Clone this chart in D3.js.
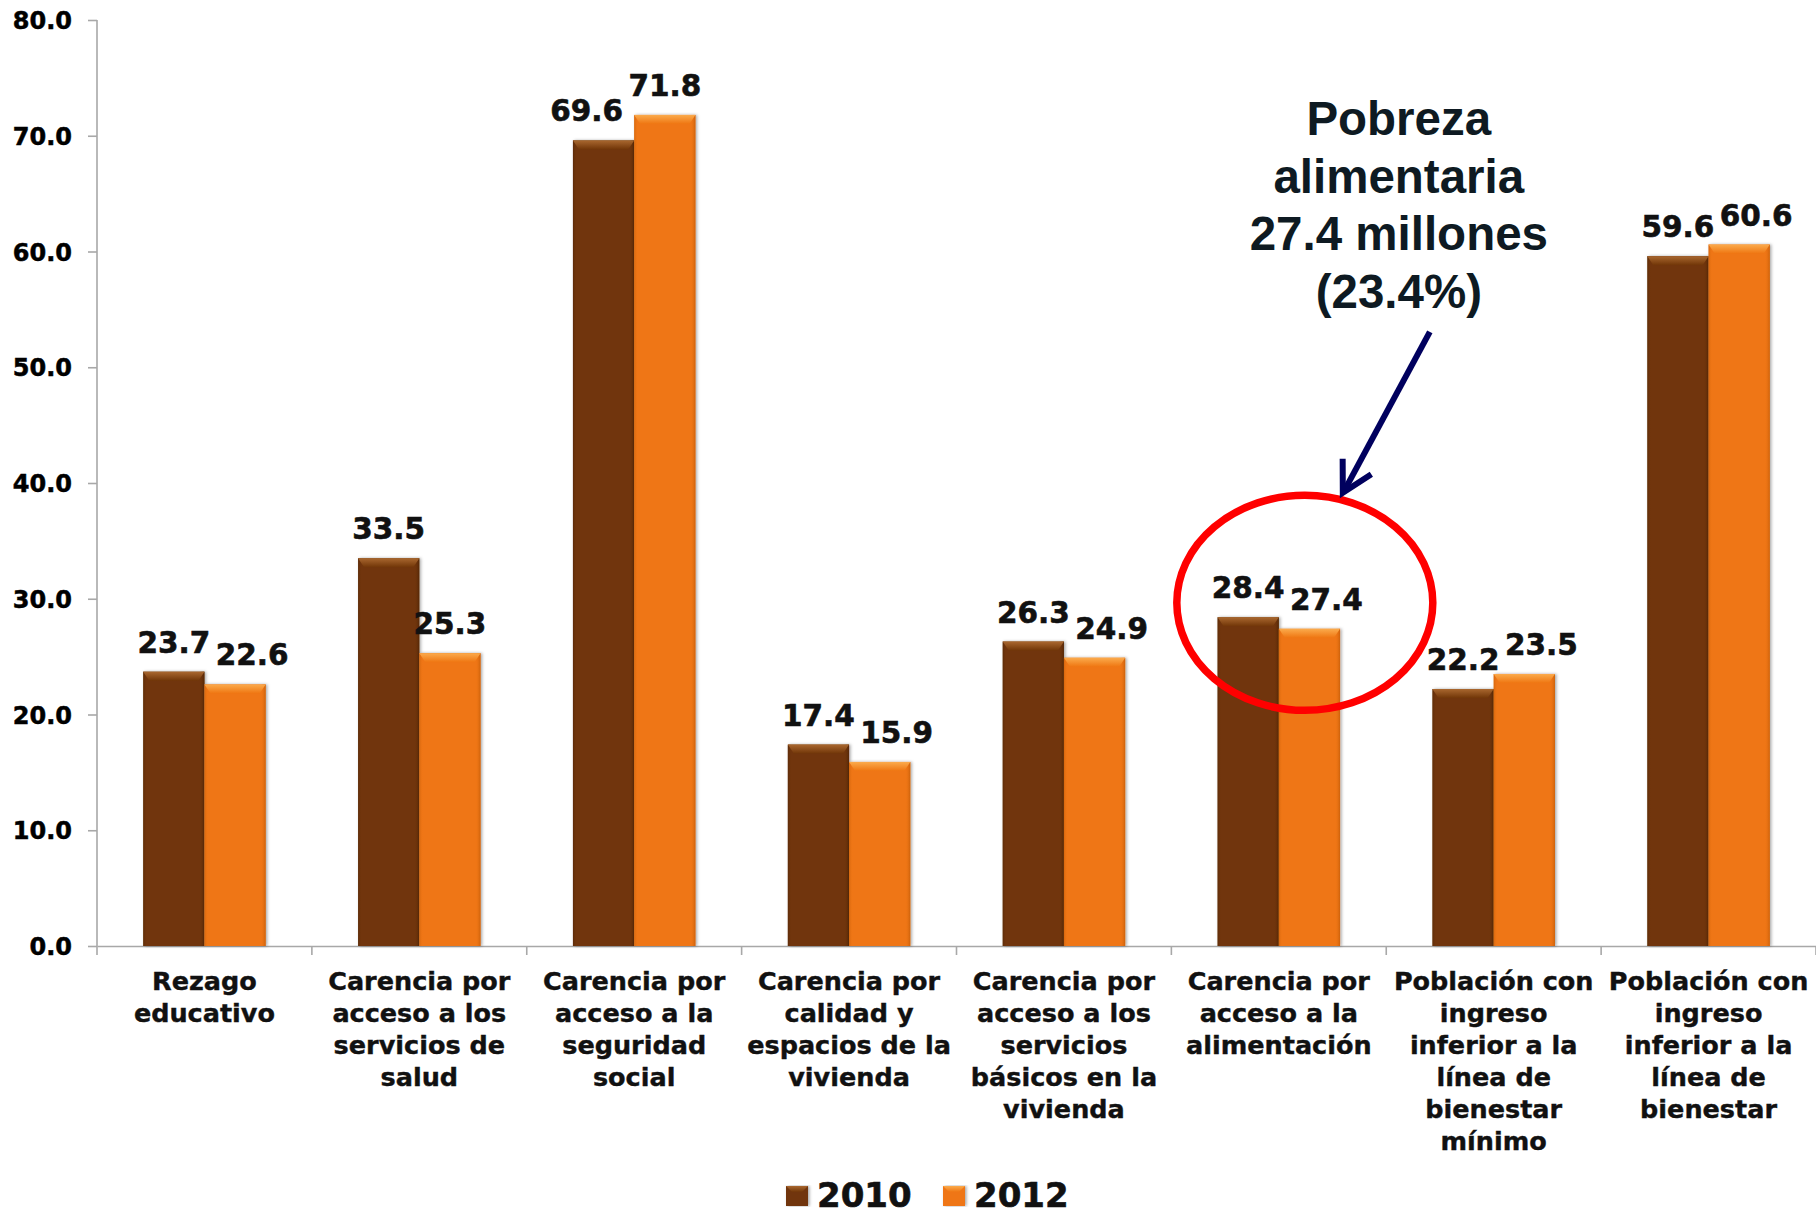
<!DOCTYPE html>
<html>
<head>
<meta charset="utf-8">
<script src="https://cdn.jsdelivr.net/npm/d3@7"></script>
<style>
  html, body { margin: 0; padding: 0; background: #ffffff; }
  svg { display: block; }
</style>
</head>
<body>
<svg id="chart" width="1816" height="1216"></svg>
<script>
// ---------------- data ----------------
const categories = [
  ["Rezago", "educativo"],
  ["Carencia por", "acceso a los", "servicios de", "salud"],
  ["Carencia por", "acceso a la", "seguridad", "social"],
  ["Carencia por", "calidad y", "espacios de la", "vivienda"],
  ["Carencia por", "acceso a los", "servicios", "básicos en la", "vivienda"],
  ["Carencia por", "acceso a la", "alimentación"],
  ["Población con", "ingreso", "inferior a la", "línea de", "bienestar", "mínimo"],
  ["Población con", "ingreso", "inferior a la", "línea de", "bienestar"]
];
const seriesNames = ["2010", "2012"];
const values2010 = [23.7, 33.5, 69.6, 17.4, 26.3, 28.4, 22.2, 59.6];
const values2012 = [22.6, 25.3, 71.8, 15.9, 24.9, 27.4, 23.5, 60.6];
const yTicks = [0, 10, 20, 30, 40, 50, 60, 70, 80];
const annotationLines = ["Pobreza", "alimentaria", "27.4 millones", "(23.4%)"];
const highlightIndex = 5;   // "Carencia por acceso a la alimentación"

// ---------------- layout ----------------
const W = 1816, H = 1216;
const plot = { left: 97, right: 1816, top: 20, bottom: 946 };
const colors = {
  "2010": { main: "#713608", light: "#a9672f", dark: "#4a2205" },
  "2012": { main: "#ef7612", light: "#fbab4c", dark: "#c05a08" }
};
const FONT = "'DejaVu Sans', Verdana, sans-serif";

const svg = d3.select("#chart");
const defs = svg.append("defs");

// bevel gradients
seriesNames.forEach(s => {
  const c = colors[s];
  const g = defs.append("linearGradient").attr("id", "top" + s)
    .attr("x1", 0).attr("y1", 0).attr("x2", 0).attr("y2", 1);
  g.append("stop").attr("offset", "0%").attr("stop-color", c.light);
  g.append("stop").attr("offset", "100%").attr("stop-color", c.main);
  const h = defs.append("linearGradient").attr("id", "side" + s)
    .attr("x1", 0).attr("y1", 0).attr("x2", 1).attr("y2", 0);
  h.append("stop").attr("offset", "0%").attr("stop-color", c.dark).attr("stop-opacity", 0.55);
  h.append("stop").attr("offset", "6%").attr("stop-color", c.main).attr("stop-opacity", 0);
  h.append("stop").attr("offset", "92%").attr("stop-color", c.main).attr("stop-opacity", 0);
  h.append("stop").attr("offset", "100%").attr("stop-color", c.dark).attr("stop-opacity", 0.75);
});
const f = defs.append("filter").attr("id", "shadow")
  .attr("x", "-20%").attr("y", "-5%").attr("width", "140%").attr("height", "110%");
f.append("feDropShadow").attr("dx", 1.5).attr("dy", 0).attr("stdDeviation", 1.6)
  .attr("flood-color", "#000").attr("flood-opacity", 0.35);

// ---------------- scales ----------------
const x0 = d3.scaleBand().domain(d3.range(categories.length))
  .range([plot.left, plot.right]).paddingInner(0).paddingOuter(0);
const bw = x0.bandwidth();
const x1 = d3.scaleBand().domain(seriesNames)
  .range([bw * 0.215, bw * 0.785]).padding(0);
const y = d3.scaleLinear().domain([0, 80]).range([plot.bottom, plot.top]);

const table = categories.map((c, i) => ({
  i, cat: c,
  vals: [{ s: "2010", v: values2010[i] }, { s: "2012", v: values2012[i] }]
}));

// ---------------- axes ----------------
const yAxis = d3.axisLeft(y).tickValues(yTicks).tickFormat(d3.format(".1f")).tickSize(9).tickPadding(16);
const gy = svg.append("g").attr("transform", `translate(${plot.left},0)`).call(yAxis);
gy.select(".domain").attr("stroke", "#a8a8a8").attr("stroke-width", 1.6).attr("d", `M0,${plot.top}V${plot.bottom}`);
gy.selectAll(".tick line").attr("stroke", "#a8a8a8").attr("stroke-width", 1.6);
gy.selectAll(".tick text")
  .attr("font-family", FONT)
  .attr("font-weight", "bold").attr("font-size", 24).attr("fill", "#000")
  .attr("stroke", "#000").attr("stroke-width", 0.5)
  .attr("dy", "0.36em");

const xAxis = d3.axisBottom(x0).tickSize(0).tickFormat("");
const gx = svg.append("g").attr("transform", `translate(0,${plot.bottom})`).call(xAxis);
gx.select(".domain").attr("stroke", "#a8a8a8").attr("stroke-width", 1.6);
// category boundary ticks
gx.selectAll(".boundary").data(d3.range(categories.length + 1)).join("line")
  .attr("class", "boundary")
  .attr("x1", d => plot.left + d * bw).attr("x2", d => plot.left + d * bw)
  .attr("y1", 0).attr("y2", 9).attr("stroke", "#a8a8a8").attr("stroke-width", 1.6);

// category labels
const catG = svg.append("g")
  .attr("font-family", FONT)
  .attr("font-weight", "bold").attr("font-size", 25.5).attr("fill", "#111")
  .attr("stroke", "#111").attr("stroke-width", 0.4)
  .attr("text-anchor", "middle");
table.forEach(d => {
  const t = catG.append("text")
    .attr("x", x0(d.i) + bw / 2).attr("y", plot.bottom + 44);
  d.cat.forEach((line, k) => {
    t.append("tspan").attr("x", x0(d.i) + bw / 2).attr("dy", k === 0 ? 0 : 32).text(line);
  });
});

// ---------------- bars ----------------
const groups = svg.append("g").selectAll("g.grp").data(table).join("g")
  .attr("class", "grp").attr("transform", d => `translate(${x0(d.i)},0)`);

const bars = groups.selectAll("g.bar").data(d => d.vals).join("g").attr("class", "bar");
bars.append("rect")
  .attr("x", d => x1(d.s)).attr("width", x1.bandwidth())
  .attr("y", d => y(d.v)).attr("height", d => y(0) - y(d.v))
  .attr("fill", d => colors[d.s].main).attr("filter", "url(#shadow)");
bars.append("rect")
  .attr("x", d => x1(d.s)).attr("width", x1.bandwidth())
  .attr("y", d => y(d.v)).attr("height", d => y(0) - y(d.v))
  .attr("fill", d => `url(#side${d.s})`);
bars.append("path")
  .attr("d", d => {
    const xa = x1(d.s), xb = xa + x1.bandwidth(), t = y(d.v);
    return `M${xa},${t}L${xb},${t}L${xb - 6},${t + 9}L${xa + 6},${t + 9}Z`;
  })
  .attr("fill", d => `url(#top${d.s})`);

// value labels (nudged apart when the pair would collide)
const lblH = 24, lblNear = 30, lblShift = 17;
const valG = svg.append("g")
  .attr("font-family", FONT)
  .attr("font-weight", "bold").attr("font-size", 29.5).attr("fill", "#111")
  .attr("stroke", "#111").attr("stroke-width", 0.6)
  .attr("text-anchor", "middle");
table.forEach(d => {
  const [a, b] = d.vals;
  const dy = Math.abs(y(a.v) - y(b.v));
  d.vals.forEach((v, k) => {
    let off = 0;
    if (dy < lblH && k === 1) off = lblShift;
    else if (dy >= lblH && dy < lblNear && k === 0) off = -lblShift;
    const cx = x0(d.i) + x1(v.s) + x1.bandwidth() / 2 + off;
    valG.append("text").attr("x", cx).attr("y", y(v.v) - 19).text(v.v.toFixed(1));
  });
});

// ---------------- annotation ----------------
const hx = x0(highlightIndex) + bw / 2 + 26;
const hy = y(values2012[highlightIndex]) - 26;
svg.append("ellipse")
  .attr("cx", hx).attr("cy", hy).attr("rx", 128).attr("ry", 107.5)
  .attr("fill", "none").attr("stroke", "#ff0000").attr("stroke-width", 7.5);

const tip = [hx + 38, hy - 110];
const tail = [hx + 125, hy - 271];
svg.append("line")
  .attr("x1", tail[0]).attr("y1", tail[1]).attr("x2", tip[0] + 3).attr("y2", tip[1] - 5)
  .attr("stroke", "#00005e").attr("stroke-width", 6);
// arrowhead (open chevron)
const ang = Math.atan2(tip[1] - tail[1], tip[0] - tail[0]);
const headLen = 34, headSpread = 0.5;
const p1 = [tip[0] - headLen * Math.cos(ang - headSpread), tip[1] - headLen * Math.sin(ang - headSpread)];
const p2 = [tip[0] - headLen * Math.cos(ang + headSpread), tip[1] - headLen * Math.sin(ang + headSpread)];
svg.append("path")
  .attr("d", `M${p1[0]},${p1[1]}L${tip[0]},${tip[1]}L${p2[0]},${p2[1]}`)
  .attr("fill", "none").attr("stroke", "#00005e").attr("stroke-width", 6)
  .attr("stroke-linejoin", "miter").attr("stroke-linecap", "butt");

const annG = svg.append("text")
  .attr("font-family", "'Liberation Sans', Arial, sans-serif")
  .attr("font-weight", "bold").attr("font-size", 47.5).attr("fill", "#0e1a22")
  .attr("text-anchor", "middle");
annotationLines.forEach((line, k) => {
  annG.append("tspan").attr("x", hx + 94).attr("y", hy - 468 + k * 57.7).text(line);
});

// ---------------- legend ----------------
const legend = svg.append("g").attr("transform", `translate(786,${H - 30})`);
const legItems = legend.selectAll("g").data(seriesNames).join("g")
  .attr("transform", (d, i) => `translate(${i * 157},0)`);
legItems.append("rect").attr("x", 0).attr("y", 0).attr("width", 22).attr("height", 20)
  .attr("fill", d => colors[d].main).attr("filter", "url(#shadow)");
legItems.append("path").attr("d", "M0,0L22,0L16,6L6,6Z").attr("fill", d => `url(#top${d})`);
legItems.append("text").attr("x", 31).attr("y", 21)
  .attr("font-family", FONT)
  .attr("font-weight", "bold").attr("font-size", 34).attr("fill", "#111")
  .attr("stroke", "#111").attr("stroke-width", 0.6)
  .text(d => d);
</script>
</body>
</html>
